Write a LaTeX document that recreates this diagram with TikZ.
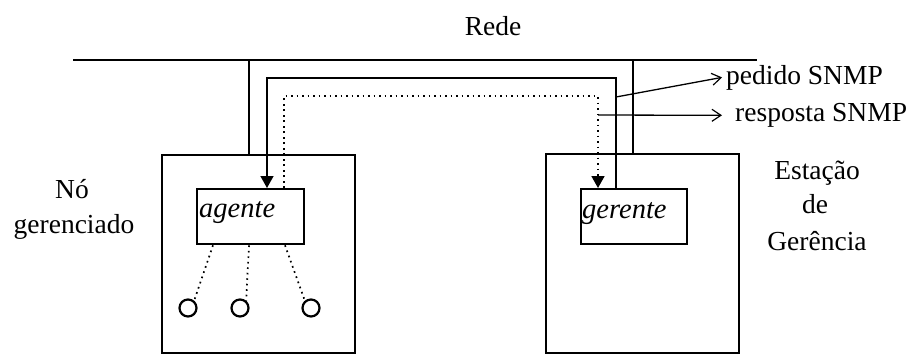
\documentclass[tikz,border=0pt]{standalone}
\usepackage{fontspec}
\setmainfont{Liberation Serif}
\usetikzlibrary{arrows.meta,calc}
\begin{document}
\begin{tikzpicture}[x=1pt,y=-1pt,
  box/.style={draw,line width=2.3pt,inner sep=0pt,anchor=north west},
  net/.style={line width=2.8pt},
  link/.style={line width=2.3pt},
  sig/.style={line width=1.3pt},
  dotline/.style={line width=1.7pt,dash pattern=on 1.7pt off 3.8pt},
  tipA/.style={-{Triangle[width=13pt,length=12pt]}},
  tipB/.style={-{Straight Barb[length=9pt,width=12pt,line width=1.2pt]}},
  lbl/.style={font=\fontsize{27.5}{33}\selectfont,inner sep=0pt},
  ilbl/.style={font=\fontsize{28.5}{33}\selectfont\itshape,inner sep=0pt},
  leaf/.style={circle,draw,line width=2.2pt,minimum size=17pt,inner sep=0pt}]
\useasboundingbox (0,0) rectangle (919,354);

% network
\coordinate (nL) at (73,60);
\coordinate (nR) at (757,60);
\draw[net] (nL) -- (nR);
\node[lbl,anchor=base] (rede) at (493,35) {Rede};

% hosts
\node[box,minimum width=193pt,minimum height=198pt] (left) at (161,154) {};
\node[box,minimum width=193pt,minimum height=199pt] (right) at (545,153) {};
\coordinate (l1) at (249,60);
\coordinate (l2) at (633,60);
\draw[link] (l1) -- (l1 |- left.north);
\draw[link] (l2) -- (l2 |- right.north);

% inner boxes
\node[box,minimum width=107pt,minimum height=55pt] (ag) at (196,188) {};
\node[box,minimum width=106pt,minimum height=55pt] (ger) at (580,188) {};
\node[ilbl,anchor=base west] (agt) at (199,217) {agente};
\node[ilbl,anchor=base west] (gert) at (582,218) {gerente};

% request (solid)
\coordinate (p1) at (616,78);
\coordinate (p2) at (267,78);
\draw[sig,tipA] (ger.north -| p1) -- (p1) -- (p2) -- (ag.north -| p2);

% response (dotted)
\coordinate (d1) at (284,96);
\coordinate (d2) at (598,96);
\draw[dotline,tipA] (ag.north -| d1) -- (d1) -- (d2) -- (ger.north -| d2);

% legend
\node[lbl,anchor=base west] (ped) at (726,84) {pedido SNMP};
\node[lbl,anchor=base west] (resp) at (735,121.5) {resposta SNMP};
\coordinate (q1) at (616,97);
\coordinate (q2) at (598,115);
\draw[sig,tipB] (q1) -- ($(ped.west)+(-4,0)$);
\draw[sig,tipB] (q2) -- ($(resp.west)+(-13,0)$ |- q2);

% managed objects
\node[leaf] (c1) at (188,308) {};
\node[leaf] (c2) at (240,308) {};
\node[leaf] (c3) at (311,308) {};
\draw[dotline] ($(ag.south west)+(17,0)$) -- (c1.50);
\draw[dotline] ($(ag.south west)+(53,0)$) -- (c2.50);
\draw[dotline] ($(ag.south west)+(89,0)$) -- (c3.130);

% side labels
\node[lbl,anchor=base] (no) at (72,198) {Nó};
\node[lbl,anchor=base] (gerenc) at (74,233) {gerenciado};
\node[lbl,anchor=base] (est) at (817,179) {Estação};
\node[lbl,anchor=base] (de) at (815,213) {de};
\node[lbl,anchor=base] (gerc) at (817,250) {Gerência};
\end{tikzpicture}
\end{document}
